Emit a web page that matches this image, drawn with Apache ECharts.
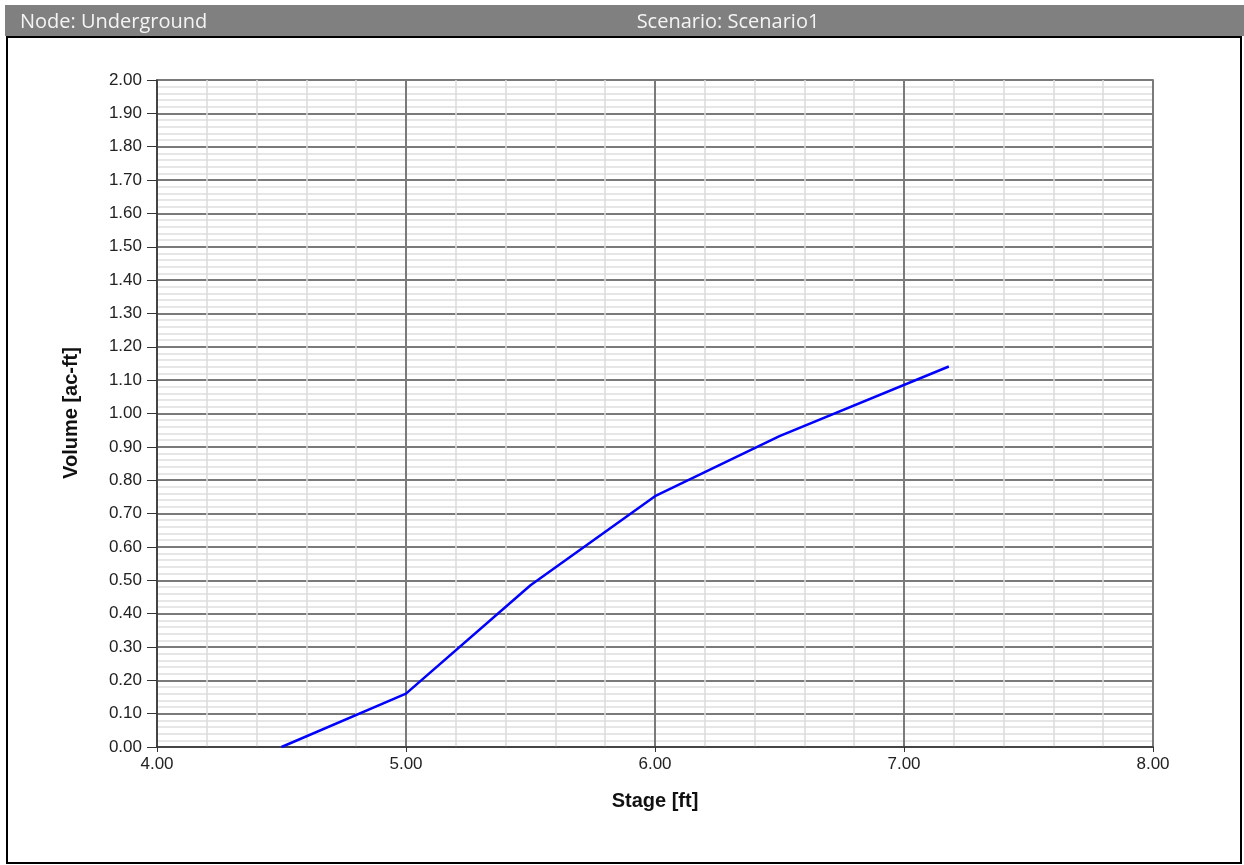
<!DOCTYPE html>
<html>
<head>
<meta charset="utf-8">
<script src="https://cdn.jsdelivr.net/npm/echarts@6/dist/echarts.min.js"></script>
<style>
html,body{margin:0;padding:0;background:#fff;}
#chart{width:1244px;height:865px;}
</style>
</head>
<body>
<div id="chart"></div>
<script>
const headerLeft = 'Node: Underground';
const headerCenter = 'Scenario: Scenario1';
const xTitle = 'Stage [ft]';
const yTitle = 'Volume [ac-ft]';
const stage = [4.5, 5.0, 5.5, 6.0, 6.5, 7.18];
const volume = [0.0, 0.16, 0.485, 0.752, 0.932, 1.141];

const chart = echarts.init(document.getElementById('chart'), null, {renderer: 'canvas'});
const labelFont = {fontFamily: '"Liberation Sans", Arial, sans-serif', fontSize: 17, color: '#222'};
chart.setOption({
  animation: false,
  backgroundColor: '#fff',
  graphic: [
    {type: 'rect', shape: {x: 5, y: 5, width: 1239, height: 31}, style: {fill: '#808080'}, z: 0},
    {type: 'rect', shape: {x: 7, y: 37, width: 1234, height: 826}, style: {fill: 'none', stroke: '#000', lineWidth: 2}, z: 0},
    {type: 'text', x: 20, y: 22, style: {text: headerLeft, fill: '#f4f4f4', font: '20px "Open Sans", sans-serif', verticalAlign: 'middle'}},
    {type: 'text', x: 728, y: 22, style: {text: headerCenter, fill: '#f4f4f4', font: '20px "Open Sans", sans-serif', align: 'center', verticalAlign: 'middle'}},
    {type: 'text', x: 655, y: 801, style: {text: xTitle, fill: '#111', font: 'bold 20px "Liberation Sans", Arial, sans-serif', align: 'center', verticalAlign: 'middle'}},
    {type: 'text', x: 71, y: 413, rotation: Math.PI / 2, style: {text: yTitle, fill: '#111', font: 'bold 20px "Liberation Sans", Arial, sans-serif', align: 'center', verticalAlign: 'middle'}}
  ],
  grid: {left: 157, right: 91, top: 80, bottom: 118, show: true, borderColor: '#555', borderWidth: 1.5, backgroundColor: 'transparent'},
  xAxis: {
    type: 'value', min: 4, max: 8, interval: 1,
    axisLine: {show: true, onZero: false, lineStyle: {color: '#333', width: 1.5}},
    axisTick: {show: true, length: 5, lineStyle: {color: '#333'}},
    axisLabel: Object.assign({formatter: v => v.toFixed(2), margin: 9}, labelFont),
    splitLine: {show: true, lineStyle: {color: '#7a7a7a', width: 2}},
    minorTick: {show: false, splitNumber: 5},
    minorSplitLine: {show: true, lineStyle: {color: '#dcdcdc', width: 1.5}}
  },
  yAxis: {
    type: 'value', min: 0, max: 2, interval: 0.1,
    axisLine: {show: true, onZero: false, lineStyle: {color: '#333', width: 1.5}},
    axisTick: {show: true, length: 10, lineStyle: {color: '#333'}},
    axisLabel: Object.assign({formatter: v => v.toFixed(2), margin: 15}, labelFont),
    splitLine: {show: true, lineStyle: {color: '#7a7a7a', width: 2}},
    minorTick: {show: false, splitNumber: 5},
    minorSplitLine: {show: true, lineStyle: {color: '#dedede', width: 1.5}}
  },
  series: [{
    type: 'line',
    data: stage.map((s, i) => [s, volume[i]]),
    showSymbol: false,
    symbol: 'none',
    lineStyle: {color: '#0000ff', width: 2.5},
    z: 5
  }]
});
</script>
</body>
</html>
